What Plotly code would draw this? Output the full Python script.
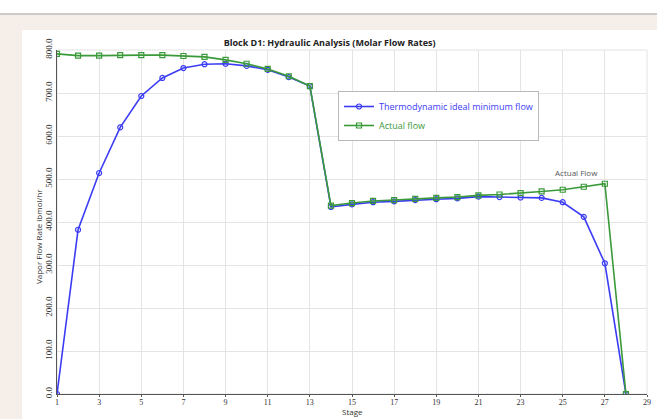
import plotly.graph_objects as go

stages = list(range(1, 29))
ideal_min = [0, 382, 514, 620, 693, 735, 758, 767, 768, 763, 754, 737, 716,
             435, 441, 446, 448, 451, 453, 455, 459, 458, 457, 456, 446, 412, 304, 0]
actual = [791, 787, 787, 788, 788, 788, 786, 784, 777, 768, 756, 739, 716,
          438, 444, 449, 451, 454, 456, 458, 462, 464, 467, 471, 475, 482, 489, 0]
x_ticks = list(range(1, 30, 2))
y_ticks = list(range(0, 801, 100))

BLUE = "#3c3cf5"
GREEN = "#3a9a3a"

L, R, T, B = 57, 10, 50, 25
W, H = 657, 419
pw, ph = W - L - R, H - T - B


def px(x):
    return (x - L) / pw


def py(y):
    return (H - B - y) / ph


fig = go.Figure()
fig.add_trace(go.Scatter(
    x=stages, y=ideal_min, mode="lines+markers",
    name="<span style='color:#3c3cf5'>Thermodynamic ideal minimum flow</span>",
    line=dict(color=BLUE, width=1.6),
    marker=dict(symbol="circle-open", size=5, color=BLUE, line=dict(width=1.2)),
))
fig.add_trace(go.Scatter(
    x=stages, y=actual, mode="lines+markers",
    name="<span style='color:#3a9a3a'>Actual flow</span>",
    line=dict(color=GREEN, width=1.6),
    marker=dict(symbol="square-open", size=5, color=GREEN, line=dict(width=1.2)),
))

fig.add_annotation(x=27, y=actual[26], text="Actual Flow", showarrow=False,
                   xanchor="center", yanchor="bottom", xshift=-28, yshift=4,
                   font=dict(family="Open Sans", size=8, color="#555555"))
fig.add_annotation(xref="paper", yref="paper", x=px(352), y=py(419), text="Stage",
                   showarrow=False, xanchor="center", yanchor="bottom",
                   font=dict(family="Open Sans", size=8, color="#333333"))
fig.add_annotation(xref="paper", yref="paper", x=px(38), y=py(237),
                   text="Vapor Flow Rate lbmol/hr", textangle=-90,
                   showarrow=False, xanchor="center", yanchor="middle",
                   font=dict(family="Open Sans", size=8, color="#333333"))

shapes = [
    dict(type="rect", xref="paper", yref="paper", x0=px(0), x1=px(W), y0=py(H), y1=py(15),
         fillcolor="#f6eee8", line=dict(width=0), layer="below"),
    dict(type="rect", xref="paper", yref="paper", x0=px(22), x1=px(W), y0=py(H), y1=py(30),
         fillcolor="#ffffff", line=dict(width=0), layer="below"),
    dict(type="line", xref="paper", yref="paper", x0=px(0), x1=px(W), y0=py(14), y1=py(14),
         line=dict(color="#9c9590", width=1.2), layer="below"),
    dict(type="rect", xref="paper", yref="paper", x0=0, x1=1, y0=0, y1=1,
         line=dict(color="#e2e2e2", width=1), layer="below"),
]

fig.update_layout(
    width=W, height=H,
    margin=dict(l=L, r=R, t=T, b=B, autoexpand=False),
    paper_bgcolor="#ffffff",
    plot_bgcolor="rgba(0,0,0,0)",
    shapes=shapes,
    title=dict(text="<b>Block D1: Hydraulic Analysis (Molar Flow Rates)</b>",
               x=px(353), xanchor="center", y=1 - 43 / H, yanchor="middle",
               font=dict(family="Open Sans", size=9, color="#222222")),
    legend=dict(x=px(338), y=py(91), xanchor="left", yanchor="top",
                bgcolor="#ffffff", bordercolor="#b8b8b8", borderwidth=1,
                font=dict(family="Open Sans", size=9), tracegroupgap=0,
                itemwidth=30),
    showlegend=True,
)
fig.update_xaxes(range=[1, 29], tickvals=x_ticks, ticktext=[str(v) for v in x_ticks],
                 automargin=False,
                 showgrid=True, gridcolor="#e4e4e4", gridwidth=1,
                 showline=True, linecolor="#555555", linewidth=1,
                 ticks="outside", ticklen=2, tickcolor="#555555",
                 ticklabelstandoff=-2,
                 tickfont=dict(family="Liberation Serif", size=8, color="#333333"),
                 zeroline=False)
fig.update_yaxes(range=[0, 800], tickvals=y_ticks, ticktext=[f"{v:.1f}" for v in y_ticks],
                 tickangle=-90, automargin=False,
                 showgrid=True, gridcolor="#e4e4e4", gridwidth=1,
                 showline=True, linecolor="#555555", linewidth=1,
                 ticks="",
                 tickfont=dict(family="Liberation Serif", size=9, color="#333333"),
                 zeroline=False)

fig.write_html("out.html", config={"displayModeBar": False},
               post_script="document.body.style.margin='0';document.body.style.overflow='hidden';")
